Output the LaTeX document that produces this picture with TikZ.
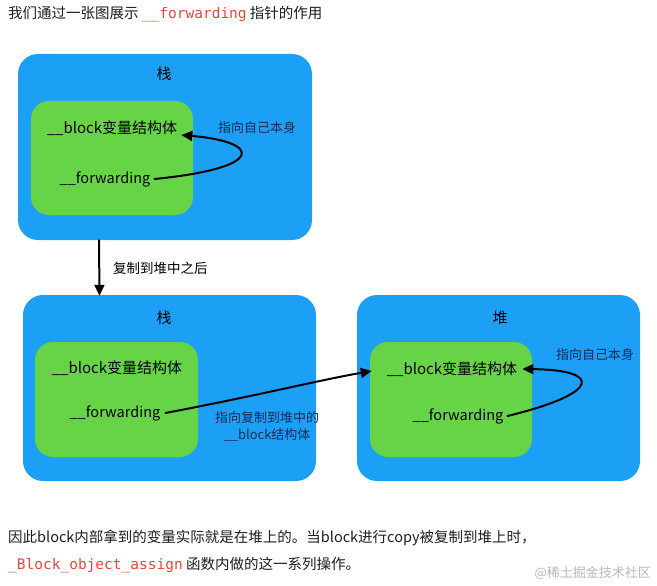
\documentclass[tikz,border=0pt]{standalone}
\usepackage{fontspec}
\setmainfont{Noto Sans CJK SC}
\newfontfamily\codefont{DejaVu Sans Mono}
\usetikzlibrary{arrows.meta,positioning}
\definecolor{cStack}{RGB}{28,160,246}
\definecolor{cBlock}{RGB}{102,212,70}
\definecolor{cNote}{RGB}{22,42,86}
\definecolor{cText}{RGB}{30,30,30}
\definecolor{cCode}{RGB}{232,72,58}
\newcommand{\code}[1]{\textcolor{cCode}{\codefont #1}}

\begin{document}
\begin{tikzpicture}[
    x=1pt, y=-1pt,
    stackbox/.style={rectangle,fill=cStack,rounded corners=20pt,inner sep=0pt},
    blockbox/.style={rectangle,fill=cBlock,rounded corners=18pt,inner sep=0pt},
    lbl/.style={font=\fontsize{14.5}{16}\selectfont,text=black,inner sep=1pt},
    note/.style={font=\fontsize{13}{17}\selectfont,text=cNote,align=center,inner sep=1pt},
    para/.style={font=\fontsize{14.5}{16}\selectfont,text=cText,anchor=west,inner sep=0pt},
    arr/.style={-{Triangle[length=11pt,width=10pt]},line width=2pt,line cap=round},
  ]
  \useasboundingbox[fill=white] (0,0) rectangle (657,586);

  \node[para] (intro) at (8,14) {我们通过一张图展示 \code{\_\_forwarding} 指针的作用};

  % before copy
  \node[stackbox,minimum width=294pt,minimum height=186pt] (stackA) at (165,147) {};
  \node[lbl,font=\fontsize{15}{16}\selectfont] at (164,74) {栈};
  \node[blockbox,minimum width=162pt,minimum height=114pt] (blockA) at (112,158) {};
  \node[lbl,font=\fontsize{15}{16}\selectfont] (structA) at (112,128) {\_\_block变量结构体};
  \node[lbl] (fwdA) at (105,179) {\_\_forwarding};
  \node[note] (selfA) at (257,128) {指向自己本身};
  \draw[arr] ([xshift=3pt]fwdA.east) .. controls (266,168) and (262,142) .. ([xshift=3pt,yshift=-7pt]structA.east);

  % after copy: stack
  \node[stackbox,minimum width=293pt,minimum height=186pt] (stackB) at (169.5,388) {};
  \node[lbl,font=\fontsize{15}{16}\selectfont] at (164,318) {栈};
  \node[blockbox,minimum width=163pt,minimum height=115pt] (blockB) at (116.5,399.5) {};
  \node[lbl,font=\fontsize{15}{16}\selectfont] (structB) at (117,368) {\_\_block变量结构体};
  \node[lbl] (fwdB) at (115,413) {\_\_forwarding};
  \node[note] (toHeap) at (267,426) {指向复制到堆中的\\\_\_block结构体};

  \draw[arr] ([xshift=-66pt]stackA.south) -- ([xshift=-70pt,yshift=-1pt]stackB.north);
  \node[lbl,anchor=west,font=\fontsize{13.5}{16}\selectfont] (copied) at (112,268) {复制到堆中之后};

  % after copy: heap
  \node[stackbox,minimum width=283pt,minimum height=186pt] (heap) at (498.5,388) {};
  \node[lbl,font=\fontsize{15}{16}\selectfont] at (500,318) {堆};
  \node[blockbox,minimum width=162pt,minimum height=115pt] (blockC) at (451,399.5) {};
  \node[lbl,font=\fontsize{15}{16}\selectfont] (structC) at (452,369) {\_\_block变量结构体};
  \node[lbl] (fwdC) at (458,416) {\_\_forwarding};
  \node[note] (selfC) at (595,355) {指向自己本身};
  \draw[arr] ([xshift=3pt]fwdC.east) .. controls (602,393) and (602,370) .. ([xshift=4pt]structC.east);

  \draw[arr] ([xshift=4pt]fwdB.east) .. controls (260,395) and (320,380) .. ([xshift=2pt,yshift=-2pt]blockC.west |- structC.west);

  \node[para] (outro1) at (8,538) {因此block内部拿到的变量实际就是在堆上的。当block进行copy被复制到堆上时，};
  \node[para] (outro2) at (8,565) {\code{\_Block\_object\_assign} 函数内做的这一系列操作。};
  \node[para,anchor=east,text=gray!55,font=\fontsize{13}{15}\selectfont] (mark) at (651,573) {@稀土掘金技术社区};
\end{tikzpicture}
\end{document}
